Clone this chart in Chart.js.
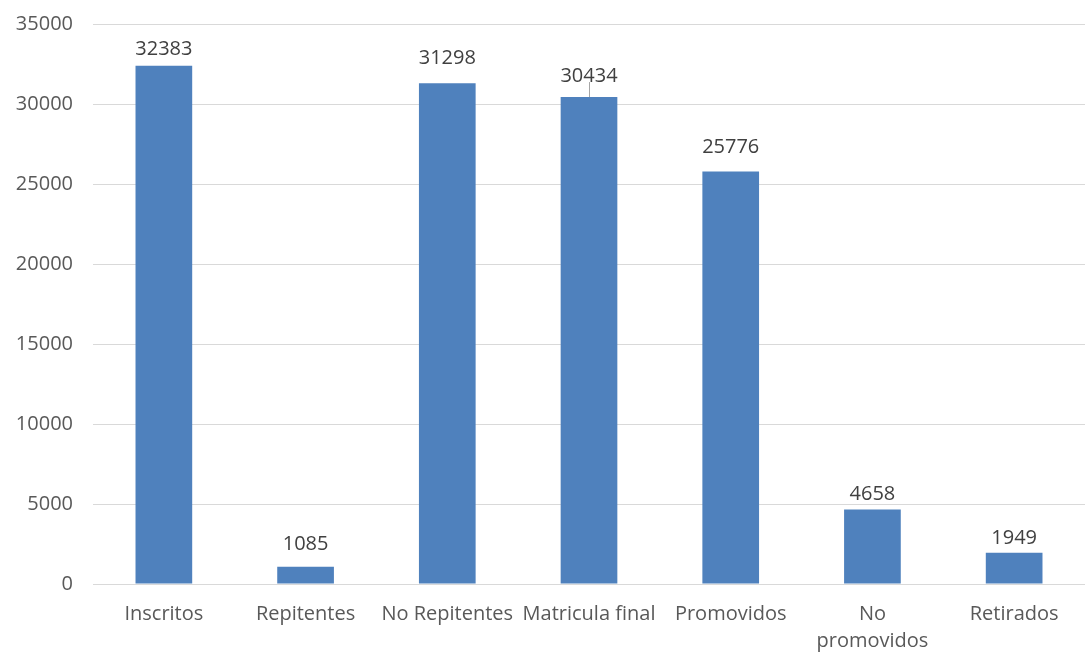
<!DOCTYPE html>
<html>
<head>
<meta charset="utf-8">
<script src="https://cdn.jsdelivr.net/npm/chart.js@4/dist/chart.umd.min.js"></script>
<style>
  html, body { margin: 0; padding: 0; background: #fff; }
  #wrap { width: 1086px; height: 654px; }
</style>
</head>
<body>
<div id="wrap"><canvas id="chart"></canvas></div>
<script>
// Data
const categories = ["Inscritos", "Repitentes", "No Repitentes", "Matricula final", "Promovidos", ["No", "promovidos"], "Retirados"];
const values = [32383, 1085, 31298, 30434, 25776, 4658, 1949];
const yTicks = [0, 5000, 10000, 15000, 20000, 25000, 30000, 35000];

const FONT = "'Open Sans', Lato, sans-serif";
const TEXT = "#595959";

// value labels above bars, one of them lifted with a leader line
const barLabels = {
  id: "barLabels",
  afterDatasetsDraw(chart, args, opts) {
    const ctx = chart.ctx;
    const meta = chart.getDatasetMeta(0);
    ctx.save();
    ctx.font = "20px " + FONT;
    ctx.fillStyle = "#404040";
    ctx.textAlign = "center";
    ctx.textBaseline = "middle";
    meta.data.forEach((bar, i) => {
      const y = bar.y - opts.lift[i];
      ctx.fillText(String(values[i]), bar.x, y);
      if (opts.leader[i]) {
        ctx.strokeStyle = "#a6a6a6";
        ctx.lineWidth = 1;
        ctx.beginPath();
        ctx.moveTo(Math.round(bar.x) + 0.5, y + 6);
        ctx.lineTo(Math.round(bar.x) + 0.5, bar.y);
        ctx.stroke();
      }
    });
    ctx.restore();
  }
};

new Chart(document.getElementById("chart"), {
  type: "bar",
  data: {
    labels: categories,
    datasets: [{
      data: values,
      backgroundColor: "#4F81BD",
      borderWidth: 0,
      barPercentage: 0.8,
      categoryPercentage: 0.5
    }]
  },
  options: {
    responsive: true,
    maintainAspectRatio: false,
    animation: false,
    layout: { padding: { top: 24, right: 1, left: 0, bottom: 0 } },
    plugins: {
      legend: { display: false },
      tooltip: { enabled: false },
      barLabels: {
        lift: [17, 22, 25, 21, 24, 15, 15],
        leader: [false, false, false, true, false, false, false]
      }
    },
    scales: {
      y: {
        min: 0,
        max: 35000,
        afterBuildTicks(scale) { scale.ticks = yTicks.map(v => ({ value: v })); },
        afterFit(scale) {
          scale.width = 93;
          scale.paddingTop = 0;
          scale.paddingBottom = 0;
        },
        grid: { color: "#d9d9d9", drawTicks: false, lineWidth: 1 },
        border: { display: false },
        ticks: {
          color: TEXT,
          font: { family: FONT, size: 20 },
          padding: 20,
          callback: v => String(v)
        }
      },
      x: {
        afterFit(scale) { scale.height = 70; },
        grid: { display: false, drawTicks: false },
        border: { display: false },
        ticks: {
          color: TEXT,
          font: { family: FONT, size: 20, lineHeight: 1.35 },
          padding: 17,
          maxRotation: 0,
          minRotation: 0,
          autoSkip: false
        }
      }
    }
  },
  plugins: [barLabels]
});
</script>
</body>
</html>
